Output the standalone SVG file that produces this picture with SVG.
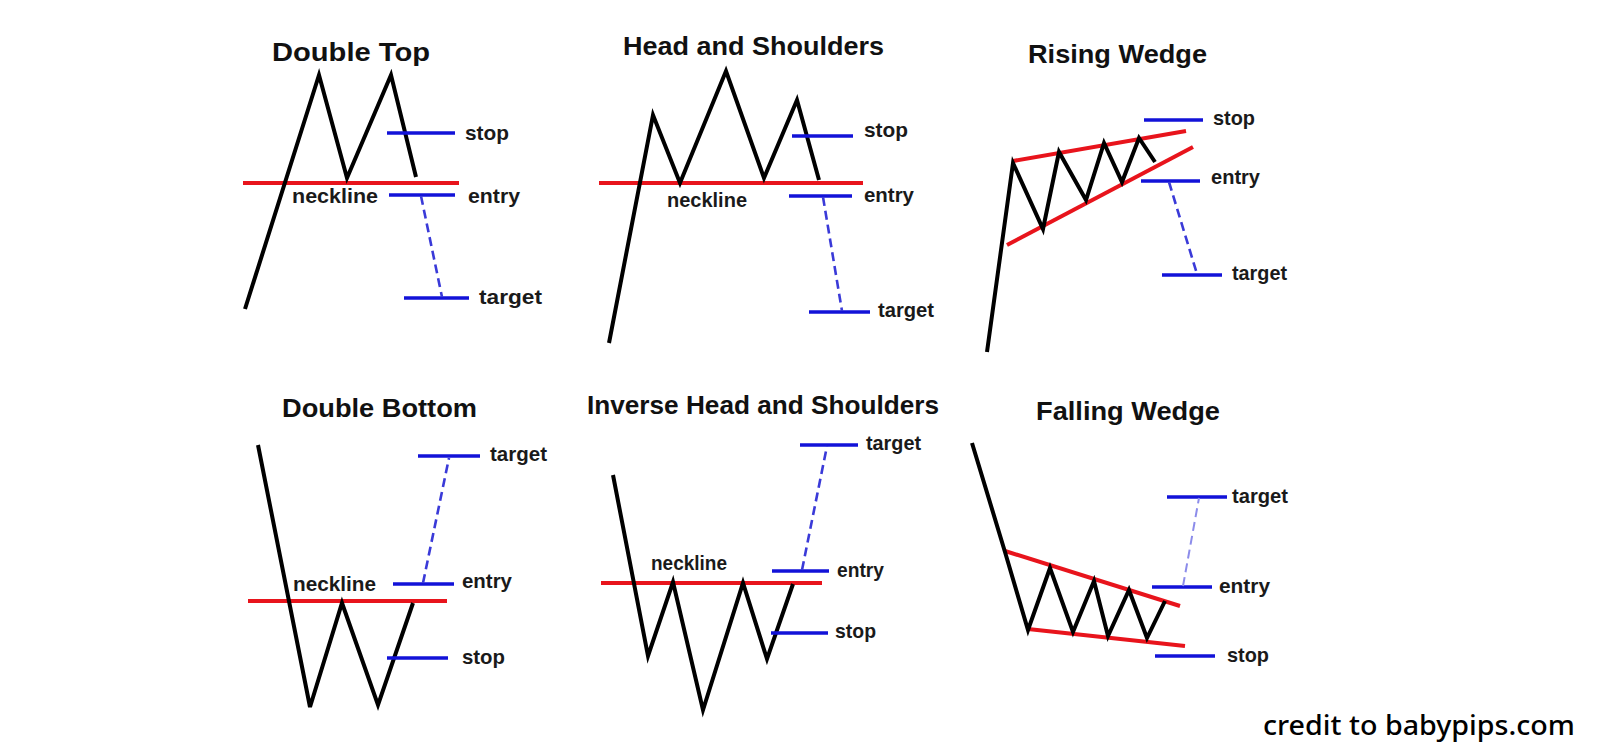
<svg xmlns="http://www.w3.org/2000/svg" width="1600" height="755" viewBox="0 0 1600 755">
<style>
.bg{fill:#ffffff}
.price{fill:none;stroke:#000;stroke-width:4;stroke-linejoin:miter;stroke-linecap:butt}
.trend{stroke:#e8141c;stroke-width:4;stroke-linecap:butt}
.lvl{stroke:#1212d8;stroke-width:3.5}
.dash{stroke:#3a3ad8;stroke-width:2.6;stroke-dasharray:9 5}
.dash2{stroke:#8c8cea;stroke-width:2;stroke-dasharray:9 5}
.title{font-family:"Liberation Sans",Arial,sans-serif;font-weight:bold;font-size:26px;fill:#111}
.lbl{font-family:"Liberation Sans",Arial,sans-serif;font-weight:bold;font-size:21px;fill:#1a1a1a}
.credit{font-family:"Noto Sans","DejaVu Sans",sans-serif;font-weight:500;font-size:27px;fill:#000}
</style>
<rect class="bg" x="0" y="0" width="1600" height="755"/>

<g id="double-top">
<text class="title" x="272" y="61" textLength="158" lengthAdjust="spacingAndGlyphs">Double Top</text>
<line class="trend" x1="243" y1="183" x2="459" y2="183"/>
<polyline class="price" points="245,309 319,75 347,178 391,75 416,177"/>
<line class="lvl" x1="387" y1="133" x2="455" y2="133"/>
<line class="lvl" x1="389" y1="195" x2="455" y2="195"/>
<line class="lvl" x1="404" y1="298" x2="469" y2="298"/>
<line class="dash" x1="421" y1="196" x2="442" y2="297"/>
<text class="lbl" x="292" y="203" textLength="86" lengthAdjust="spacingAndGlyphs">neckline</text>
<text class="lbl" x="465" y="140" textLength="44" lengthAdjust="spacingAndGlyphs">stop</text>
<text class="lbl" x="468" y="203" textLength="52" lengthAdjust="spacingAndGlyphs">entry</text>
<text class="lbl" x="479" y="304" textLength="63" lengthAdjust="spacingAndGlyphs">target</text>
</g>

<g id="head-and-shoulders">
<text class="title" x="623" y="55" textLength="261" lengthAdjust="spacingAndGlyphs">Head and Shoulders</text>
<line class="trend" x1="599" y1="183" x2="863" y2="183"/>
<polyline class="price" points="609,343 653,115 680,183 726,71 764,178 797,100 819,180"/>
<line class="lvl" x1="792" y1="136" x2="853" y2="136"/>
<line class="lvl" x1="789" y1="196" x2="852" y2="196"/>
<line class="lvl" x1="809" y1="312" x2="870" y2="312"/>
<line class="dash" x1="823" y1="197" x2="842" y2="311"/>
<text class="lbl" x="667" y="207" textLength="80" lengthAdjust="spacingAndGlyphs">neckline</text>
<text class="lbl" x="864" y="137" textLength="44" lengthAdjust="spacingAndGlyphs">stop</text>
<text class="lbl" x="864" y="202" textLength="50" lengthAdjust="spacingAndGlyphs">entry</text>
<text class="lbl" x="878" y="317" textLength="56" lengthAdjust="spacingAndGlyphs">target</text>
</g>

<g id="rising-wedge">
<text class="title" x="1028" y="63" textLength="179" lengthAdjust="spacingAndGlyphs">Rising Wedge</text>
<line class="trend" x1="1013" y1="161" x2="1186" y2="131"/>
<line class="trend" x1="1007" y1="245" x2="1193" y2="147"/>
<polyline class="price" points="987,352 1013,163 1043,229 1059,152 1086,200 1104,143 1122,182 1139,138 1155,162"/>
<line class="lvl" x1="1144" y1="120" x2="1203" y2="120"/>
<line class="lvl" x1="1141" y1="181" x2="1200" y2="181"/>
<line class="lvl" x1="1162" y1="275" x2="1222" y2="275"/>
<line class="dash" x1="1169" y1="182" x2="1197" y2="274"/>
<text class="lbl" x="1213" y="125" textLength="42" lengthAdjust="spacingAndGlyphs">stop</text>
<text class="lbl" x="1211" y="184" textLength="49" lengthAdjust="spacingAndGlyphs">entry</text>
<text class="lbl" x="1232" y="280" textLength="55" lengthAdjust="spacingAndGlyphs">target</text>
</g>

<g id="double-bottom">
<text class="title" x="282" y="417" textLength="195" lengthAdjust="spacingAndGlyphs">Double Bottom</text>
<line class="trend" x1="248" y1="601" x2="447" y2="601"/>
<polyline class="price" points="258,445 310,707 342,603 378,705 413,603"/>
<line class="lvl" x1="418" y1="456" x2="480" y2="456"/>
<line class="lvl" x1="393" y1="584" x2="454" y2="584"/>
<line class="lvl" x1="387" y1="658" x2="448" y2="658"/>
<line class="dash" x1="423" y1="583" x2="449" y2="458"/>
<text class="lbl" x="293" y="591" textLength="83" lengthAdjust="spacingAndGlyphs">neckline</text>
<text class="lbl" x="490" y="461" textLength="57" lengthAdjust="spacingAndGlyphs">target</text>
<text class="lbl" x="462" y="588" textLength="50" lengthAdjust="spacingAndGlyphs">entry</text>
<text class="lbl" x="462" y="664" textLength="43" lengthAdjust="spacingAndGlyphs">stop</text>
</g>

<g id="inverse-head-and-shoulders">
<text class="title" x="587" y="414" textLength="352" lengthAdjust="spacingAndGlyphs">Inverse Head and Shoulders</text>
<line class="trend" x1="601" y1="583" x2="822" y2="583"/>
<polyline class="price" points="613,475 648,656 673,582 703,710 743,583 767,659 793,584"/>
<line class="lvl" x1="800" y1="445" x2="858" y2="445"/>
<line class="lvl" x1="772" y1="571" x2="829" y2="571"/>
<line class="lvl" x1="771" y1="633" x2="828" y2="633"/>
<line class="dash" x1="802" y1="570" x2="827" y2="446"/>
<text class="lbl" x="651" y="570" textLength="76" lengthAdjust="spacingAndGlyphs">neckline</text>
<text class="lbl" x="866" y="450" textLength="55" lengthAdjust="spacingAndGlyphs">target</text>
<text class="lbl" x="837" y="577" textLength="47" lengthAdjust="spacingAndGlyphs">entry</text>
<text class="lbl" x="835" y="638" textLength="41" lengthAdjust="spacingAndGlyphs">stop</text>
</g>

<g id="falling-wedge">
<text class="title" x="1036" y="420" textLength="184" lengthAdjust="spacingAndGlyphs">Falling Wedge</text>
<line class="trend" x1="1005" y1="551" x2="1180" y2="606"/>
<line class="trend" x1="1028" y1="629" x2="1185" y2="646"/>
<polyline class="price" points="972,443 1005,552 1028,630 1050,568 1073,632 1094,581 1108,636 1129,590 1147,638 1165,601"/>
<line class="lvl" x1="1167" y1="497" x2="1227" y2="497"/>
<line class="lvl" x1="1152" y1="587" x2="1212" y2="587"/>
<line class="lvl" x1="1155" y1="656" x2="1215" y2="656"/>
<line class="dash2" x1="1183" y1="586" x2="1199" y2="498"/>
<text class="lbl" x="1232" y="503" textLength="56" lengthAdjust="spacingAndGlyphs">target</text>
<text class="lbl" x="1219" y="593" textLength="51" lengthAdjust="spacingAndGlyphs">entry</text>
<text class="lbl" x="1227" y="662" textLength="42" lengthAdjust="spacingAndGlyphs">stop</text>
</g>

<g id="credit">
<text class="credit" x="1263" y="735" textLength="312" lengthAdjust="spacingAndGlyphs">credit to babypips.com</text>
</g>
</svg>
